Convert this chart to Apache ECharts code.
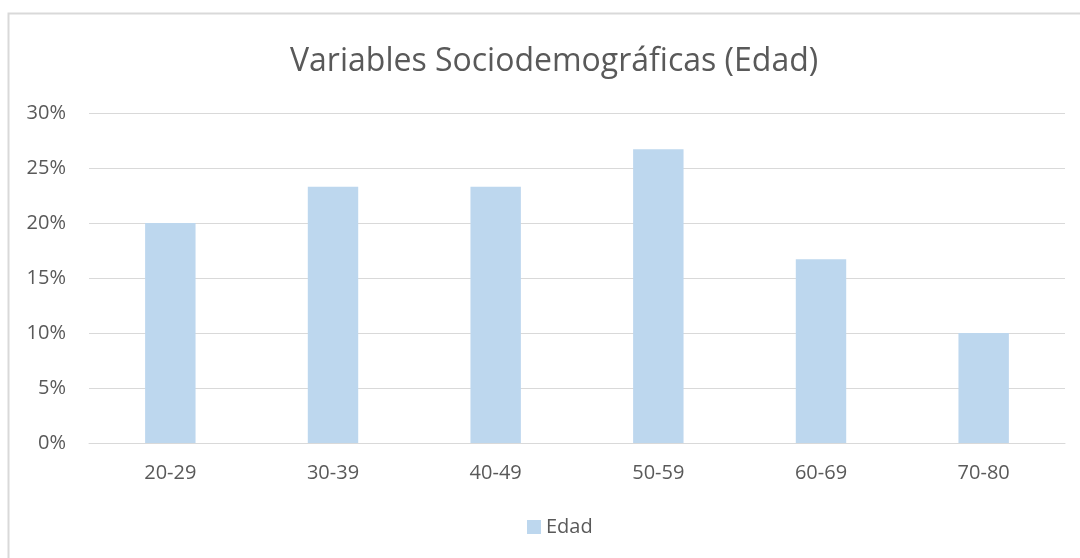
<!DOCTYPE html>
<html>
<head>
<meta charset="utf-8">
<script src="https://cdn.jsdelivr.net/npm/echarts@6/dist/echarts.min.js"></script>
<style>
  html, body { margin: 0; padding: 0; background: #fff; }
  #chart { width: 1080px; height: 558px; }
</style>
</head>
<body>
<div id="chart"></div>
<script>
// datos
const categorias = ['20-29', '30-39', '40-49', '50-59', '60-69', '70-80'];
const valoresEdad = [20.0, 23.3, 23.3, 26.7, 16.7, 10.0];
const nombreSerie = 'Edad';
const titulo = 'Variables Sociodemográficas (Edad)';

const myChart = echarts.init(document.getElementById('chart'));
const fuente = '"Open Sans", "Noto Sans", sans-serif';
const gris = '#595959';

let option = {
  animation: false,
  textStyle: { fontFamily: fuente },
  // borde del area del grafico
  graphic: [{
    type: 'rect',
    shape: { x: 8.5, y: 13.5, width: 1200, height: 700 },
    style: { fill: 'none', stroke: '#d9d9d9', lineWidth: 2 },
    silent: true
  }],
  title: {
    text: titulo,
    left: 285,
    top: 41,
    textStyle: { fontFamily: fuente, fontSize: 32, fontWeight: 'normal', color: gris }
  },
  legend: {
    bottom: 16,
    left: 522,
    itemWidth: 14,
    itemHeight: 14,
    icon: 'rect',
    itemGap: 6,
    textStyle: { fontFamily: fuente, fontSize: 20, color: gris },
    data: [nombreSerie]
  },
  grid: {
    left: 89,
    right: 15,
    top: 113,
    bottom: 115
  },
  xAxis: {
    type: 'category',
    data: categorias,
    axisTick: { show: false },
    axisLine: { lineStyle: { color: '#d9d9d9', width: 1 } },
    axisLabel: { fontFamily: fuente, fontSize: 20, color: gris, margin: 20 }
  },
  yAxis: {
    type: 'value',
    min: 0,
    max: 30,
    interval: 5,
    axisLine: { show: false },
    axisTick: { show: false },
    axisLabel: { fontFamily: fuente, fontSize: 20, color: gris, margin: 23, formatter: '{value}%' },
    splitLine: { lineStyle: { color: '#d9d9d9', width: 1 } }
  },
  series: [{
    name: nombreSerie,
    type: 'bar',
    data: valoresEdad,
    barWidth: '31%',
    itemStyle: { color: '#bdd7ee' }
  }]
};
myChart.setOption(option);
</script>
</body>
</html>
